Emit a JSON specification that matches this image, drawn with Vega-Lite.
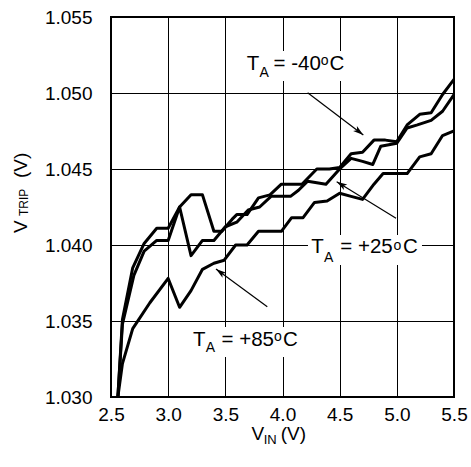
{
  "$schema": "https://vega.github.io/schema/vega-lite/v6.json",
  "width": 343,
  "height": 380,
  "autosize": "none",
  "padding": {"left": 111, "top": 17, "right": 17, "bottom": 70},
  "background": "white",
  "config": {
    "font": "Liberation Sans",
    "view": {"stroke": "black", "strokeWidth": 2},
    "axis": {
      "grid": true, "gridColor": "black", "gridOpacity": 1, "gridWidth": 1,
      "ticks": false, "domain": false, "title": null,
      "labelFont": "Liberation Sans", "labelFontSize": 19, "labelColor": "black", "labelFlush": false
    }
  },
  "datasets": {
    "curves": [
      {"s": "-40", "v": 2.56, "vt": 1.0300}, {"s": "-40", "v": 2.60, "vt": 1.0351}, {"s": "-40", "v": 2.69, "vt": 1.0385}, {"s": "-40", "v": 2.79, "vt": 1.0401}, {"s": "-40", "v": 2.90, "vt": 1.0411}, {"s": "-40", "v": 3.00, "vt": 1.0411}, {"s": "-40", "v": 3.10, "vt": 1.0425}, {"s": "-40", "v": 3.20, "vt": 1.0433}, {"s": "-40", "v": 3.30, "vt": 1.0433}, {"s": "-40", "v": 3.40, "vt": 1.0409}, {"s": "-40", "v": 3.47, "vt": 1.0409}, {"s": "-40", "v": 3.56, "vt": 1.0417}, {"s": "-40", "v": 3.60, "vt": 1.0420}, {"s": "-40", "v": 3.69, "vt": 1.0420}, {"s": "-40", "v": 3.79, "vt": 1.0431}, {"s": "-40", "v": 3.89, "vt": 1.0433}, {"s": "-40", "v": 3.99, "vt": 1.0440}, {"s": "-40", "v": 4.08, "vt": 1.0440}, {"s": "-40", "v": 4.17, "vt": 1.0440}, {"s": "-40", "v": 4.30, "vt": 1.0450}, {"s": "-40", "v": 4.41, "vt": 1.0450}, {"s": "-40", "v": 4.50, "vt": 1.0451}, {"s": "-40", "v": 4.60, "vt": 1.0460}, {"s": "-40", "v": 4.70, "vt": 1.0461}, {"s": "-40", "v": 4.80, "vt": 1.0469}, {"s": "-40", "v": 4.90, "vt": 1.0469}, {"s": "-40", "v": 5.00, "vt": 1.0468}, {"s": "-40", "v": 5.09, "vt": 1.0479}, {"s": "-40", "v": 5.20, "vt": 1.0486}, {"s": "-40", "v": 5.30, "vt": 1.0487}, {"s": "-40", "v": 5.40, "vt": 1.0499}, {"s": "-40", "v": 5.50, "vt": 1.0509},
      {"s": "+25", "v": 2.56, "vt": 1.0300}, {"s": "+25", "v": 2.60, "vt": 1.0348}, {"s": "+25", "v": 2.70, "vt": 1.0380}, {"s": "+25", "v": 2.79, "vt": 1.0396}, {"s": "+25", "v": 2.90, "vt": 1.0403}, {"s": "+25", "v": 3.00, "vt": 1.0403}, {"s": "+25", "v": 3.10, "vt": 1.0425}, {"s": "+25", "v": 3.20, "vt": 1.0393}, {"s": "+25", "v": 3.30, "vt": 1.0403}, {"s": "+25", "v": 3.40, "vt": 1.0403}, {"s": "+25", "v": 3.50, "vt": 1.0412}, {"s": "+25", "v": 3.60, "vt": 1.0415}, {"s": "+25", "v": 3.70, "vt": 1.0423}, {"s": "+25", "v": 3.80, "vt": 1.0425}, {"s": "+25", "v": 3.90, "vt": 1.0432}, {"s": "+25", "v": 4.00, "vt": 1.0432}, {"s": "+25", "v": 4.07, "vt": 1.0432}, {"s": "+25", "v": 4.14, "vt": 1.0436}, {"s": "+25", "v": 4.22, "vt": 1.0442}, {"s": "+25", "v": 4.30, "vt": 1.0441}, {"s": "+25", "v": 4.38, "vt": 1.0440}, {"s": "+25", "v": 4.50, "vt": 1.0450}, {"s": "+25", "v": 4.60, "vt": 1.0457}, {"s": "+25", "v": 4.70, "vt": 1.0455}, {"s": "+25", "v": 4.79, "vt": 1.0453}, {"s": "+25", "v": 4.86, "vt": 1.0465}, {"s": "+25", "v": 5.00, "vt": 1.0467}, {"s": "+25", "v": 5.09, "vt": 1.0477}, {"s": "+25", "v": 5.18, "vt": 1.0479}, {"s": "+25", "v": 5.30, "vt": 1.0482}, {"s": "+25", "v": 5.40, "vt": 1.0488}, {"s": "+25", "v": 5.50, "vt": 1.0499},
      {"s": "+85", "v": 2.56, "vt": 1.0300}, {"s": "+85", "v": 2.60, "vt": 1.0322}, {"s": "+85", "v": 2.69, "vt": 1.0345}, {"s": "+85", "v": 2.84, "vt": 1.0362}, {"s": "+85", "v": 3.00, "vt": 1.0378}, {"s": "+85", "v": 3.10, "vt": 1.0359}, {"s": "+85", "v": 3.20, "vt": 1.0370}, {"s": "+85", "v": 3.30, "vt": 1.0384}, {"s": "+85", "v": 3.40, "vt": 1.0388}, {"s": "+85", "v": 3.49, "vt": 1.0390}, {"s": "+85", "v": 3.59, "vt": 1.0400}, {"s": "+85", "v": 3.69, "vt": 1.0400}, {"s": "+85", "v": 3.79, "vt": 1.0409}, {"s": "+85", "v": 3.89, "vt": 1.0409}, {"s": "+85", "v": 3.99, "vt": 1.0409}, {"s": "+85", "v": 4.08, "vt": 1.0418}, {"s": "+85", "v": 4.18, "vt": 1.0418}, {"s": "+85", "v": 4.28, "vt": 1.0428}, {"s": "+85", "v": 4.39, "vt": 1.0429}, {"s": "+85", "v": 4.50, "vt": 1.0434}, {"s": "+85", "v": 4.60, "vt": 1.0432}, {"s": "+85", "v": 4.70, "vt": 1.0430}, {"s": "+85", "v": 4.80, "vt": 1.0440}, {"s": "+85", "v": 4.88, "vt": 1.0447}, {"s": "+85", "v": 5.00, "vt": 1.0447}, {"s": "+85", "v": 5.09, "vt": 1.0447}, {"s": "+85", "v": 5.20, "vt": 1.0458}, {"s": "+85", "v": 5.30, "vt": 1.0460}, {"s": "+85", "v": 5.40, "vt": 1.0472}, {"s": "+85", "v": 5.50, "vt": 1.0475}
    ],
    "boxes": [
      {"x": 3.655, "x2": 4.583, "y": 1.05276, "y2": 1.05079},
      {"x": 4.223, "x2": 5.220, "y": 1.04066, "y2": 1.03868},
      {"x": 3.191, "x2": 4.162, "y": 1.03461, "y2": 1.03263}
    ],
    "arrows": [
      {"k": "-40", "x": 4.220, "y": 1.05002, "x2": 4.707, "y2": 1.04724},
      {"k": "+25", "x": 4.993, "y": 1.04176, "x2": 4.474, "y2": 1.04416},
      {"k": "+85", "x": 3.867, "y": 1.03594, "x2": 3.418, "y2": 1.03842}
    ],
    "mainText": [
      {"x": 3.687, "y": 1.05151, "t": "T"}, {"x": 3.922, "y": 1.05151, "t": "= -40"}, {"x": 4.412, "y": 1.05151, "t": "C"},
      {"x": 4.252, "y": 1.03945, "t": "T"}, {"x": 4.505, "y": 1.03945, "t": "= +25"}, {"x": 5.055, "y": 1.03945, "t": "C"},
      {"x": 3.217, "y": 1.03337, "t": "T"}, {"x": 3.467, "y": 1.03337, "t": "= +85"}, {"x": 4.005, "y": 1.03337, "t": "C"}
    ],
    "smallText": [
      {"x": 3.798, "y": 1.05103, "t": "A"}, {"x": 4.335, "y": 1.05184, "t": "o"},
      {"x": 4.363, "y": 1.03890, "t": "A"}, {"x": 4.970, "y": 1.03967, "t": "o"},
      {"x": 3.328, "y": 1.03298, "t": "A"}, {"x": 3.925, "y": 1.03368, "t": "o"}
    ],
    "xTitle": [{"x": 3.729, "y": 1.02717, "t": "V"}, {"x": 3.985, "y": 1.02717, "t": "(V)"}],
    "xTitleSub": [{"x": 3.835, "y": 1.02691, "t": "IN"}],
    "yTitle": [{"x": 1.7627, "y": 1.04079, "t": "V"}, {"x": 1.7627, "y": 1.04441, "t": "(V)"}],
    "yTitleSub": [{"x": 1.7727, "y": 1.04190, "t": "TRIP"}]
  },
  "layer": [
    {
      "data": {"name": "curves"},
      "mark": {"type": "line", "color": "black", "strokeWidth": 3, "strokeJoin": "round", "clip": true},
      "encoding": {
        "x": {"field": "v", "type": "quantitative", "scale": {"domain": [2.5, 5.5], "nice": false, "zero": false},
              "axis": {"values": [2.5, 3, 3.5, 4, 4.5, 5, 5.5], "format": ".1f", "labelPadding": 8}},
        "y": {"field": "vt", "type": "quantitative", "scale": {"domain": [1.03, 1.055], "nice": false, "zero": false},
              "axis": {"values": [1.03, 1.035, 1.04, 1.045, 1.05, 1.055], "format": ".3f", "labelPadding": 19}},
        "detail": {"field": "s"}
      }
    },
    {
      "data": {"name": "boxes"},
      "mark": {"type": "rect", "fill": "white"},
      "encoding": {
        "x": {"field": "x", "type": "quantitative"}, "x2": {"field": "x2"},
        "y": {"field": "y", "type": "quantitative"}, "y2": {"field": "y2"}
      }
    },
    {
      "data": {"name": "arrows"},
      "mark": {"type": "rule", "color": "black", "strokeWidth": 1.2},
      "encoding": {
        "x": {"field": "x", "type": "quantitative"}, "x2": {"field": "x2"},
        "y": {"field": "y", "type": "quantitative"}, "y2": {"field": "y2"}
      }
    },
    {
      "data": {"name": "arrows"},
      "transform": [{"filter": "datum.k == '-40'"}],
      "mark": {"type": "point", "shape": "M0,0L-0.6,2L0,1.5L0.6,2Z", "filled": true, "color": "black", "opacity": 1, "size": 110, "angle": 127.3},
      "encoding": {"x": {"field": "x2", "type": "quantitative"}, "y": {"field": "y2", "type": "quantitative"}}
    },
    {
      "data": {"name": "arrows"},
      "transform": [{"filter": "datum.k == '+25'"}],
      "mark": {"type": "point", "shape": "M0,0L-0.6,2L0,1.5L0.6,2Z", "filled": true, "color": "black", "opacity": 1, "size": 110, "angle": 301.7},
      "encoding": {"x": {"field": "x2", "type": "quantitative"}, "y": {"field": "y2", "type": "quantitative"}}
    },
    {
      "data": {"name": "arrows"},
      "transform": [{"filter": "datum.k == '+85'"}],
      "mark": {"type": "point", "shape": "M0,0L-0.6,2L0,1.5L0.6,2Z", "filled": true, "color": "black", "opacity": 1, "size": 110, "angle": 306.3},
      "encoding": {"x": {"field": "x2", "type": "quantitative"}, "y": {"field": "y2", "type": "quantitative"}}
    },
    {
      "data": {"name": "mainText"},
      "mark": {"type": "text", "font": "Liberation Sans", "fontSize": 20.5, "align": "left", "baseline": "alphabetic", "color": "black"},
      "encoding": {"x": {"field": "x", "type": "quantitative"}, "y": {"field": "y", "type": "quantitative"}, "text": {"field": "t"}}
    },
    {
      "data": {"name": "smallText"},
      "mark": {"type": "text", "font": "Liberation Sans", "fontSize": 14, "align": "left", "baseline": "alphabetic", "color": "black"},
      "encoding": {"x": {"field": "x", "type": "quantitative"}, "y": {"field": "y", "type": "quantitative"}, "text": {"field": "t"}}
    },
    {
      "data": {"name": "xTitle"},
      "mark": {"type": "text", "font": "Liberation Sans", "fontSize": 19, "align": "left", "baseline": "alphabetic", "color": "black"},
      "encoding": {"x": {"field": "x", "type": "quantitative"}, "y": {"field": "y", "type": "quantitative"}, "text": {"field": "t"}}
    },
    {
      "data": {"name": "xTitleSub"},
      "mark": {"type": "text", "font": "Liberation Sans", "fontSize": 13, "align": "left", "baseline": "alphabetic", "color": "black"},
      "encoding": {"x": {"field": "x", "type": "quantitative"}, "y": {"field": "y", "type": "quantitative"}, "text": {"field": "t"}}
    },
    {
      "data": {"name": "yTitle"},
      "mark": {"type": "text", "font": "Liberation Sans", "fontSize": 19, "align": "left", "baseline": "alphabetic", "angle": 270, "color": "black"},
      "encoding": {"x": {"field": "x", "type": "quantitative"}, "y": {"field": "y", "type": "quantitative"}, "text": {"field": "t"}}
    },
    {
      "data": {"name": "yTitleSub"},
      "mark": {"type": "text", "font": "Liberation Sans", "fontSize": 12, "align": "left", "baseline": "alphabetic", "angle": 270, "color": "black"},
      "encoding": {"x": {"field": "x", "type": "quantitative"}, "y": {"field": "y", "type": "quantitative"}, "text": {"field": "t"}}
    }
  ]
}
